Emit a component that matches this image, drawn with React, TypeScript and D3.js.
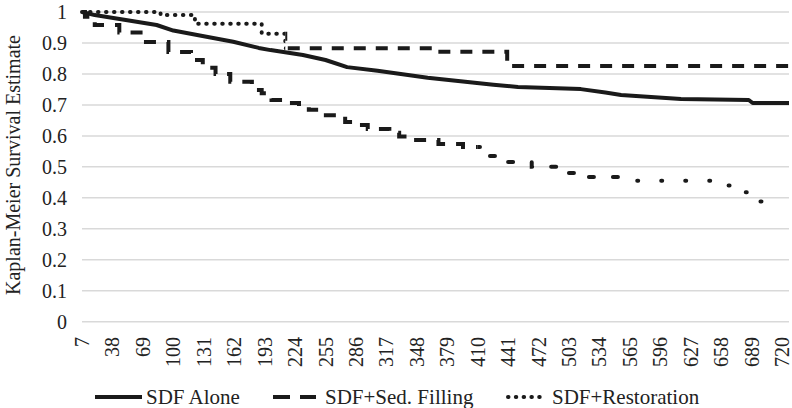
import * as d3 from "d3";

// x axis tick labels (days) and y ticks
const DAY_TICKS = [7, 38, 69, 100, 131, 162, 193, 224, 255, 286, 317, 348, 379, 410, 441, 472, 503, 534, 565, 596, 627, 658, 689, 720];
const Y_TICKS = [0, 0.1, 0.2, 0.3, 0.4, 0.5, 0.6, 0.7, 0.8, 0.9, 1];
const DAY_MIN = 7;
const DAY_MAX = 727;

// SDF Alone
const aloneDays = [7, 20, 50, 83, 100, 127, 161, 187, 199, 232, 255, 277, 308, 359, 426, 451, 515, 540, 556, 617, 686, 690, 727];
const aloneSurv = [1, 0.99, 0.975, 0.958, 0.94, 0.924, 0.904, 0.884, 0.877, 0.861, 0.845, 0.822, 0.81, 0.788, 0.765, 0.758, 0.751, 0.74, 0.732, 0.719, 0.716, 0.706, 0.706];

// SDF+Sed. Filling
const sedDays = [7, 10, 20, 45, 70, 95, 118, 130, 143, 158, 180, 190, 200, 212, 228, 238, 252, 275, 285, 298, 320, 330, 345, 370, 395, 420, 440, 465, 490, 515, 570, 650, 672, 690, 705];
const sedSurv = [1, 0.985, 0.958, 0.934, 0.903, 0.871, 0.845, 0.82, 0.8, 0.775, 0.748, 0.738, 0.716, 0.706, 0.693, 0.684, 0.667, 0.645, 0.635, 0.622, 0.61, 0.598, 0.587, 0.574, 0.564, 0.535, 0.516, 0.5, 0.48, 0.467, 0.455, 0.44, 0.418, 0.388, 0.388];

// SDF+Restoration
const restDays = [7, 87, 122, 190, 214, 365, 440, 727];
const restSurv = [1, 0.99, 0.962, 0.93, 0.883, 0.872, 0.826, 0.826];

const LEGEND = ["SDF Alone", "SDF+Sed. Filling", "SDF+Restoration"];

const W = 792;
const H = 408;
const FONT = "'Liberation Serif', 'Times New Roman', 'DejaVu Serif', serif";
const TXT = { fontFamily: FONT };

type Pt = [number, number];
const zip = (a: number[], b: number[]): Pt[] => a.map((d, i) => [d, b[i]]);

export default function App() {
  const x = d3.scaleLinear().domain([DAY_MIN, DAY_MAX]).range([82, 789]);
  const y = d3.scaleLinear().domain([0, 1]).range([321.7, 12]);

  const linear = d3.line<Pt>().x((d) => x(d[0])).y((d) => y(d[1]));
  const step = d3.line<Pt>().x((d) => x(d[0])).y((d) => y(d[1])).curve(d3.curveStepAfter);

  const alonePath = linear(zip(aloneDays, aloneSurv)) ?? "";
  const sedPath = step(zip(sedDays, sedSurv)) ?? "";
  const restPath = step(zip(restDays, restSurv)) ?? "";

  // dash style changes along the curves, as in the picture
  const clip = (id: string, d0: number, d1: number) => (
    <clipPath id={id} key={id}>
      <rect x={x(d0)} y={0} width={x(d1) - x(d0)} height={H} />
    </clipPath>
  );

  return (
    <svg width={W} height={H} style={{ position: "absolute", left: 0, top: 0, background: "#fff" }}>
      <defs>
        {clip("restA", 0, 214)}
        {clip("restB", 214, 800)}
        {clip("sedA", 0, 410)}
        {clip("sedB", 410, 560)}
        {clip("sedC", 560, 800)}
      </defs>

      {Y_TICKS.map((t) => (
        <g key={t}>
          <line x1={82} x2={789} y1={y(t)} y2={y(t)} stroke="#d9d9d9" strokeWidth={1.5} />
          <text x={67} y={y(t)} dy="0.35em" textAnchor="end" fontSize={20} fill="#222" style={TXT}>
            {t}
          </text>
        </g>
      ))}

      {DAY_TICKS.map((d) => (
        <text
          key={d}
          transform={`translate(${x(d)},337) rotate(-90)`}
          dy="0.35em"
          textAnchor="end"
          fontSize={20}
          fill="#222"
          style={TXT}
        >
          {d}
        </text>
      ))}

      <text transform={`translate(13,165) rotate(-90)`} textAnchor="middle" dy="0.35em" fontSize={20} fill="#222" style={TXT}>
        Kaplan-Meier Survival Estimate
      </text>

      <path d={alonePath} fill="none" stroke="#1a1a1a" strokeWidth={4} strokeLinejoin="round" />

      <path d={sedPath} fill="none" stroke="#1a1a1a" strokeWidth={4} strokeDasharray="12 11" clipPath="url(#sedA)" />
      <path d={sedPath} fill="none" stroke="#1a1a1a" strokeWidth={4} strokeDasharray="5 19" strokeLinecap="round" clipPath="url(#sedB)" />
      <path d={sedPath} fill="none" stroke="#1a1a1a" strokeWidth={4} strokeDasharray="1 23" strokeDashoffset={-4} strokeLinecap="round" clipPath="url(#sedC)" />

      <path d={restPath} fill="none" stroke="#1a1a1a" strokeWidth={4} strokeDasharray="0.5 7.5" strokeLinecap="round" clipPath="url(#restA)" />
      <path d={restPath} fill="none" stroke="#1a1a1a" strokeWidth={4} strokeDasharray="12 10" clipPath="url(#restB)" />

      {/* legend */}
      <g>
        <line x1={95} x2={142} y1={397} y2={397} stroke="#1a1a1a" strokeWidth={4} />
        <text x={146} y={397} dy="0.35em" fontSize={21} fill="#222" style={TXT}>{LEGEND[0]}</text>
        <line x1={273} x2={316} y1={397} y2={397} stroke="#1a1a1a" strokeWidth={4} strokeDasharray="17 10" />
        <text x={325} y={397} dy="0.35em" fontSize={21} fill="#222" style={TXT}>{LEGEND[1]}</text>
        <line x1={508} x2={547} y1={397} y2={397} stroke="#1a1a1a" strokeWidth={4} strokeDasharray="0.5 7.3" strokeLinecap="round" />
        <text x={552} y={397} dy="0.35em" fontSize={21} fill="#222" style={TXT}>{LEGEND[2]}</text>
      </g>
    </svg>
  );
}
